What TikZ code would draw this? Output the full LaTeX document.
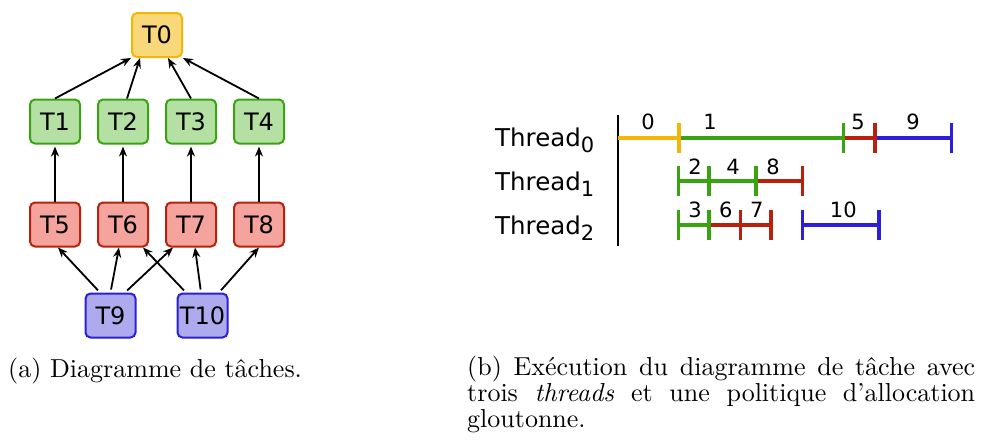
\documentclass[tikz,border=0pt]{standalone}
\usepackage{fontspec}
\usepackage{tikz}
\usetikzlibrary{arrows.meta,positioning}

\setmainfont{lmroman10}[Extension=.otf,UprightFont=*-regular,ItalicFont=*-italic,BoldFont=*-bold,Ligatures=TeX]
\newfontfamily\diagfont{DejaVu Sans}
\newcommand{\thr}[2]{#1\raisebox{-6.5pt}{\fontsize{21}{21}\selectfont #2}}

\definecolor{yfill}{HTML}{F8D878}
\definecolor{yline}{HTML}{F2B705}
\definecolor{gfill}{HTML}{B5E0A3}
\definecolor{gline}{HTML}{3AA312}
\definecolor{rfill}{HTML}{F4A39D}
\definecolor{rline}{HTML}{B8210E}
\definecolor{bfill}{HTML}{ADAAEE}
\definecolor{bline}{HTML}{2D1ED9}

\begin{document}
\begin{tikzpicture}[x=1pt, y=-1pt, node distance=16pt,
                    task/.style={rectangle,rounded corners=5pt,draw,line width=2pt,minimum width=50pt,minimum height=44pt,inner sep=0pt,font=\diagfont\fontsize{24}{24}\selectfont},
                    yellow task/.style={task,draw=yline,fill=yfill},
                    green task/.style={task,draw=gline,fill=gfill},
                    red task/.style={task,draw=rline,fill=rfill},
                    blue task/.style={task,draw=bline,fill=bfill},
                    dep/.style={line width=1.8pt,-{Stealth[length=10pt,width=8pt]}},
                    seg/.style={line width=4pt},
                    tick/.style={line width=3.5pt},
                    num/.style={font=\diagfont\fontsize{21}{21}\selectfont,inner sep=0pt},
                    thread/.style={font=\diagfont\fontsize{24.5}{24.5}\selectfont,inner sep=0pt,anchor=base west},
                    caption/.style={font=\fontsize{26}{26.3}\selectfont,inner sep=0pt,anchor=base west}]

  \useasboundingbox (0,0) rectangle (981,445);

  % task graph
  \node[yellow task] (T0) at (157,35) {T0};
  \node[green task] (T1) at (55,121.5) {T1};
  \node[green task] (T2) [right=of T1] {T2};
  \node[green task] (T3) [right=of T2] {T3};
  \node[green task] (T4) [right=of T3] {T4};
  \node[red task] (T5) [below=57pt of T1] {T5};
  \node[red task] (T6) [below=57pt of T2] {T6};
  \node[red task] (T7) [below=57pt of T3] {T7};
  \node[red task] (T8) [below=57pt of T4] {T8};
  \node[blue task] (T9) at (110.5,315.5) {T9};
  \node[blue task] (T10) at (202.5,315.5) {T10};

  \path[dep]
    (T1.north) edge (T0.south west)
    ([xshift=4pt]T2.north) edge ([xshift=-17pt]T0.south)
    (T3.north) edge ([xshift=11pt]T0.south)
    (T4.north) edge (T0.south east)

    (T5.north) edge[shorten >=2pt] (T1.south)
    (T6.north) edge[shorten >=2pt] (T2.south)
    (T7.north) edge[shorten >=2pt] (T3.south)
    (T8.north) edge[shorten >=2pt] (T4.south)

    ([xshift=-10.5pt]T9.north) edge[shorten <=3pt] ([xshift=3pt]T5.south)
    (T9.north) edge[shorten <=3pt] ([xshift=-4pt]T6.south)
    ([xshift=14.5pt]T9.north) edge[shorten <=3pt] ([xshift=8pt]T7.south west)
    ([xshift=-16.5pt]T10.north) edge[shorten <=3pt] ([xshift=-6pt]T6.south east)
    ([xshift=-1.5pt]T10.north) edge[shorten <=3pt] ([xshift=4pt]T7.south)
    ([xshift=16.5pt]T10.north) edge[shorten <=3pt] (T8.south);

  % execution on three threads
  \node[thread] (th0) at (495,146) {\thr{Thread}{0}};
  \node[thread] (th1) at (495,190) {\thr{Thread}{1}};
  \node[thread] (th2) at (495,234) {\thr{Thread}{2}};
  \draw[line width=2pt] (617.7,115) -- (617.7,246);

  \draw[seg,yline] (617.7,137.7) -- (679,137.7);
  \draw[seg,gline] (679,137.7) -- (843.3,137.7);
  \draw[seg,rline] (843.3,137.7) -- (875,137.7);
  \draw[seg,bline] (875,137.7) -- (951.7,137.7);
  \draw[tick,yline] (679,122.7) -- (679,152.7);
  \draw[tick,gline] (843.3,122.7) -- (843.3,152.7);
  \draw[tick,rline] (875,122.7) -- (875,152.7);
  \draw[tick,bline] (951.7,122.7) -- (951.7,152.7);

  \draw[seg,gline] (678.3,181) -- (756,181);
  \draw[seg,rline] (756,181) -- (802.7,181);
  \draw[tick,gline] (678.3,166) -- (678.3,196);
  \draw[tick,gline] (709,166) -- (709,196);
  \draw[tick,gline] (756,166) -- (756,196);
  \draw[tick,rline] (802.7,166) -- (802.7,196);

  \draw[seg,gline] (678.3,225) -- (709,225);
  \draw[seg,rline] (709,225) -- (771,225);
  \draw[seg,bline] (802.7,225) -- (879,225);
  \draw[tick,gline] (678.3,210) -- (678.3,240);
  \draw[tick,gline] (709,210) -- (709,240);
  \draw[tick,rline] (740.7,210) -- (740.7,240);
  \draw[tick,rline] (771,210) -- (771,240);
  \draw[tick,bline] (802.7,210) -- (802.7,240);
  \draw[tick,bline] (879,210) -- (879,240);

  \node[num] (n0) at (648,122) {0};
  \node[num] (n1) at (710,122) {1};
  \node[num] (n5) at (858,122) {5};
  \node[num] (n9) at (913,122) {9};
  \node[num] (n2) at (695,167) {2};
  \node[num] (n4) at (733,167) {4};
  \node[num] (n8) at (773,167) {8};
  \node[num] (n3) at (695,210) {3};
  \node[num] (n6) at (725.7,210) {6};
  \node[num] (n7) at (756.7,210) {7};
  \node[num] (n10) at (843.3,210) {10};

  % captions
  \node[caption] (capa) at (8,377) {(a) Diagramme de tâches.};
  \node[caption,text width=508pt,align=justify] (capb) at (467,375)
    {(b) Exécution du diagramme de tâche avec\linebreak trois \emph{threads} et une politique d'allocation\linebreak gloutonne.};
\end{tikzpicture}
\end{document}
